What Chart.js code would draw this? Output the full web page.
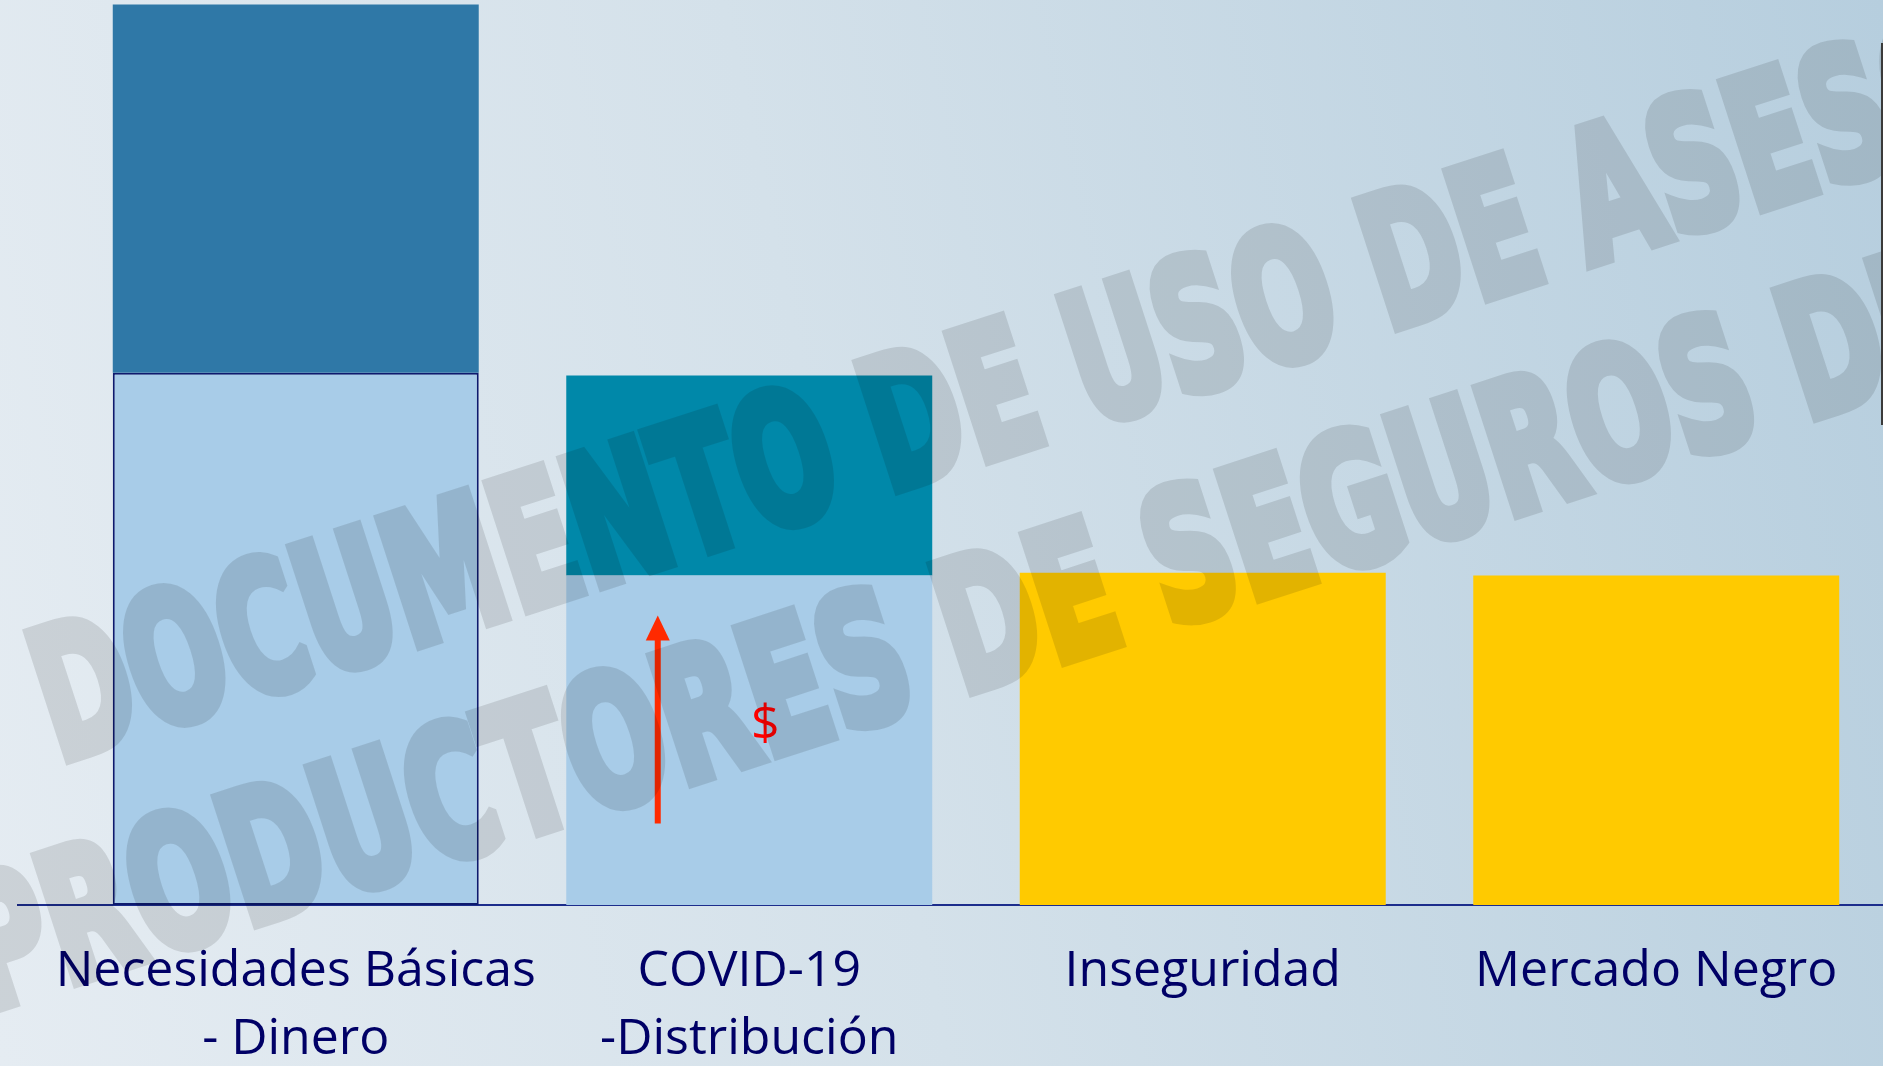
<!DOCTYPE html>
<html lang="es">
<head>
<meta charset="utf-8">
<title>Necesidades y riesgos</title>
<script src="https://cdn.jsdelivr.net/npm/chart.js@4.4.1/dist/chart.umd.min.js"></script>
<style>
  html, body { margin: 0; padding: 0; overflow: hidden; }
  body { background: linear-gradient(78deg, #e5ecf2 0%, #d4e1ea 45%, #b6cede 100%); }
  #wrap { position: relative; width: 1883px; height: 1066px; }
</style>
</head>
<body>
<div id="wrap"><canvas id="chart"></canvas></div>
<script>
const categories = [["Necesidades Básicas", "- Dinero"], ["COVID-19", "-Distribución"], "Inseguridad", "Mercado Negro"];
const baseValues = [58.8, 36.4, 36.7, 36.4];
const topValues = [40.7, 22.1, null, null];
const watermarkLines = ["DOCUMENTO DE USO DE ASESORES", "PRODUCTORES DE SEGUROS DE"];

const navy = "#000066";

// axis line, red arrow with "$", watermark
const extrasPlugin = {
  id: "extras",
  beforeDatasetsDraw(chart) {
    const { ctx, scales: { y } } = chart;
    const y0 = y.getPixelForValue(0);
    ctx.save();
    ctx.strokeStyle = "#1c2d8c";
    ctx.lineWidth = 2;
    ctx.beginPath();
    ctx.moveTo(17, y0);
    ctx.lineTo(chart.width, y0);
    ctx.stroke();
    ctx.restore();
  },
  afterDatasetsDraw(chart) {
    const { ctx, scales: { y } } = chart;
    const bar = chart.getDatasetMeta(0).data[1];
    const ax = bar.x - bar.width * 0.25;
    const yBottom = y.getPixelForValue(9);
    const yTip = y.getPixelForValue(32);
    ctx.save();
    ctx.strokeStyle = "#ff2a00";
    ctx.fillStyle = "#ff2a00";
    ctx.lineWidth = 6;
    ctx.beginPath();
    ctx.moveTo(ax, yBottom);
    ctx.lineTo(ax, yTip + 20);
    ctx.stroke();
    ctx.beginPath();
    ctx.moveTo(ax, yTip);
    ctx.lineTo(ax - 12, yTip + 25);
    ctx.lineTo(ax + 12, yTip + 25);
    ctx.closePath();
    ctx.fill();
    ctx.fillStyle = "#ff0000";
    ctx.font = '50px "Open Sans"';
    ctx.textAlign = "center";
    ctx.textBaseline = "middle";
    ctx.fillText("$", bar.x + 16, y.getPixelForValue(19.8));
    ctx.restore();
  },
  afterDraw(chart) {
    const { ctx } = chart;
    // draw the watermark opaque on its own canvas, then lay it on faintly
    const off = document.createElement("canvas");
    off.width = chart.canvas.width;
    off.height = chart.canvas.height;
    const o = off.getContext("2d");
    o.fillStyle = "#000";
    o.strokeStyle = "#000";
    o.lineJoin = "miter";
    o.miterLimit = 2;
    o.lineWidth = 12;
    o.font = 'bold 180px "DejaVu Sans"';
    o.textAlign = "left";
    o.textBaseline = "alphabetic";
    const widths = [
      1610 / o.measureText("DOCUMENTO DE USO DE ").width,
      1915 / o.measureText("PRODUCTORES DE SEGUROS ").width,
    ];
    const starts = [[58, 762], [-16, 1012]];
    watermarkLines.forEach((txt, i) => {
      o.save();
      o.translate(starts[i][0], starts[i][1]);
      o.rotate(-18 * Math.PI / 180);
      o.scale(widths[i], 1);
      o.fillText(txt, 0, 0);
      o.strokeText(txt, 0, 0);
      o.restore();
    });
    ctx.save();
    ctx.globalAlpha = 0.11;
    ctx.drawImage(off, 0, 0, chart.width, chart.height);
    ctx.globalAlpha = 1;
    // thin dark edge on the right
    ctx.fillStyle = "#3a3a3a";
    ctx.fillRect(chart.width - 2, 43, 2, 382);
    ctx.restore();
  }
};

const ctx = document.getElementById("chart").getContext("2d");
new Chart(ctx, {
  type: "bar",
  data: {
    labels: categories,
    datasets: [
      {
        label: "Base",
        data: baseValues,
        backgroundColor: ["#a8cce8", "#a8cce8", "#ffca00", "#ffca00"],
        borderColor: "#0d1a6e",
        borderWidth: [2, 0, 0, 0],
        borderSkipped: false,
      },
      {
        label: "Extra",
        data: topValues,
        backgroundColor: ["#2f78a7", "#0088a9", "#ffca00", "#ffca00"],
        borderWidth: 0,
      },
    ],
  },
  options: {
    responsive: true,
    maintainAspectRatio: false,
    animation: false,
    layout: { padding: { left: 69, right: 0, top: 0, bottom: 0 } },
    datasets: {
      bar: { barPercentage: 0.807, categoryPercentage: 1 },
    },
    plugins: {
      legend: { display: false },
      tooltip: { enabled: false },
      title: { display: false },
    },
    scales: {
      x: {
        stacked: true,
        grid: { display: false, drawTicks: false },
        border: { display: false },
        ticks: {
          color: navy,
          font: { family: '"Open Sans"', size: 50, lineHeight: 1.36 },
          padding: 33,
          maxRotation: 0,
          autoSkip: false,
        },
        afterFit: (axis) => {
          axis.height = 161;
        },
      },
      y: {
        stacked: true,
        display: false,
        min: 0,
        max: 100,
      },
    },
  },
  plugins: [extrasPlugin],
});
</script>
</body>
</html>
